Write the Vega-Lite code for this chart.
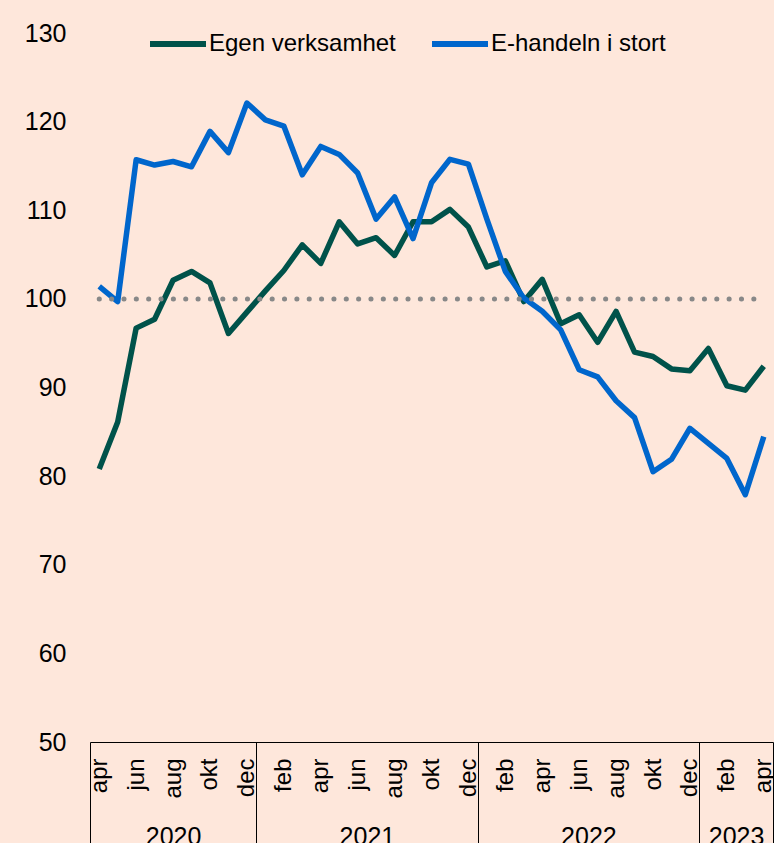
{
  "$schema": "https://vega.github.io/schema/vega-lite/v6.json",
  "width": 683,
  "height": 709,
  "autosize": {"type": "none"},
  "padding": {"left": 90, "top": 33, "right": 1, "bottom": 101},
  "background": "#FEE7DB",
  "config": {
    "view": {"stroke": null},
    "font": "Liberation Sans",
    "legend": {
      "orient": "none",
      "legendX": 57,
      "legendY": -20,
      "direction": "horizontal",
      "labelFont": "Liberation Sans",
      "labelFontSize": 24,
      "labelColor": "#000000",
      "symbolType": "stroke",
      "symbolSize": 3136,
      "symbolStrokeWidth": 6,
      "labelOffset": 0,
      "columnPadding": 24,
      "padding": 0,
      "labelLimit": 400
    }
  },
  "datasets": {
    "series": [
      {"t": 0, "month": "2020-04", "Egen verksamhet": 80.8, "E-handeln i stort": 101.4},
      {"t": 1, "month": "2020-05", "Egen verksamhet": 86.1, "E-handeln i stort": 99.7},
      {"t": 2, "month": "2020-06", "Egen verksamhet": 96.7, "E-handeln i stort": 115.7},
      {"t": 3, "month": "2020-07", "Egen verksamhet": 97.7, "E-handeln i stort": 115.1},
      {"t": 4, "month": "2020-08", "Egen verksamhet": 102.1, "E-handeln i stort": 115.5},
      {"t": 5, "month": "2020-09", "Egen verksamhet": 103.1, "E-handeln i stort": 114.9},
      {"t": 6, "month": "2020-10", "Egen verksamhet": 101.8, "E-handeln i stort": 118.9},
      {"t": 7, "month": "2020-11", "Egen verksamhet": 96.1, "E-handeln i stort": 116.5},
      {"t": 8, "month": "2020-12", "Egen verksamhet": 98.5, "E-handeln i stort": 122.1},
      {"t": 9, "month": "2021-01", "Egen verksamhet": 100.9, "E-handeln i stort": 120.2},
      {"t": 10, "month": "2021-02", "Egen verksamhet": 103.2, "E-handeln i stort": 119.5},
      {"t": 11, "month": "2021-03", "Egen verksamhet": 106.1, "E-handeln i stort": 114.0},
      {"t": 12, "month": "2021-04", "Egen verksamhet": 104.0, "E-handeln i stort": 117.2},
      {"t": 13, "month": "2021-05", "Egen verksamhet": 108.7, "E-handeln i stort": 116.3},
      {"t": 14, "month": "2021-06", "Egen verksamhet": 106.2, "E-handeln i stort": 114.2},
      {"t": 15, "month": "2021-07", "Egen verksamhet": 106.9, "E-handeln i stort": 109.0},
      {"t": 16, "month": "2021-08", "Egen verksamhet": 104.9, "E-handeln i stort": 111.5},
      {"t": 17, "month": "2021-09", "Egen verksamhet": 108.7, "E-handeln i stort": 106.8},
      {"t": 18, "month": "2021-10", "Egen verksamhet": 108.7, "E-handeln i stort": 113.1},
      {"t": 19, "month": "2021-11", "Egen verksamhet": 110.1, "E-handeln i stort": 115.75},
      {"t": 20, "month": "2021-12", "Egen verksamhet": 108.1, "E-handeln i stort": 115.2},
      {"t": 21, "month": "2022-01", "Egen verksamhet": 103.6, "E-handeln i stort": 109.0},
      {"t": 22, "month": "2022-02", "Egen verksamhet": 104.3, "E-handeln i stort": 103.1},
      {"t": 23, "month": "2022-03", "Egen verksamhet": 99.7, "E-handeln i stort": 100.1},
      {"t": 24, "month": "2022-04", "Egen verksamhet": 102.2, "E-handeln i stort": 98.6},
      {"t": 25, "month": "2022-05", "Egen verksamhet": 97.2, "E-handeln i stort": 96.5},
      {"t": 26, "month": "2022-06", "Egen verksamhet": 98.2, "E-handeln i stort": 92.0},
      {"t": 27, "month": "2022-07", "Egen verksamhet": 95.1, "E-handeln i stort": 91.2},
      {"t": 28, "month": "2022-08", "Egen verksamhet": 98.6, "E-handeln i stort": 88.5},
      {"t": 29, "month": "2022-09", "Egen verksamhet": 94.0, "E-handeln i stort": 86.6},
      {"t": 30, "month": "2022-10", "Egen verksamhet": 93.5, "E-handeln i stort": 80.5},
      {"t": 31, "month": "2022-11", "Egen verksamhet": 92.1, "E-handeln i stort": 81.9},
      {"t": 32, "month": "2022-12", "Egen verksamhet": 91.9, "E-handeln i stort": 85.4},
      {"t": 33, "month": "2023-01", "Egen verksamhet": 94.4, "E-handeln i stort": 83.7},
      {"t": 34, "month": "2023-02", "Egen verksamhet": 90.2, "E-handeln i stort": 82.0},
      {"t": 35, "month": "2023-03", "Egen verksamhet": 89.7, "E-handeln i stort": 77.9},
      {"t": 36, "month": "2023-04", "Egen verksamhet": 92.4, "E-handeln i stort": 84.45}
    ],
    "reference": [
      {"t": 0, "ref": 100},
      {"t": 36, "ref": 100}
    ]
  },
  "layer": [
    {
      "data": {"name": "series"},
      "transform": [
        {"fold": ["Egen verksamhet", "E-handeln i stort"], "as": ["series", "value"]},
        {"filter": "datum.series === 'Egen verksamhet'"}
      ],
      "mark": {"type": "line", "strokeWidth": 5.5, "strokeJoin": "round"},
      "encoding": {
        "x": {
          "field": "t", "type": "quantitative",
          "scale": {"domain": [-0.5, 36.5], "nice": false, "zero": false},
          "axis": {
            "orient": "bottom",
            "title": null,
            "values": [0, 2, 4, 6, 8, 10, 12, 14, 16, 18, 20, 22, 24, 26, 28, 30, 32, 34, 36],
            "labelExpr": "['jan','feb','mar','apr','maj','jun','jul','aug','sep','okt','nov','dec'][(datum.value + 3) % 12]",
            "labelAngle": -90,
            "labelAlign": "right",
            "labelBaseline": "middle",
            "labelFont": "Liberation Sans",
            "labelFontSize": 24,
            "labelColor": "#000000",
            "labelPadding": 16,
            "labelFlush": false,
            "labelOverlap": false,
            "labelBound": false,
            "ticks": false,
            "grid": false,
            "domain": true,
            "domainColor": "#000000",
            "domainWidth": 1
          }
        },
        "y": {
          "field": "value", "type": "quantitative",
          "scale": {"domain": [50, 130], "nice": false, "zero": false},
          "axis": {
            "title": null,
            "values": [50, 60, 70, 80, 90, 100, 110, 120, 130],
            "labelFont": "Liberation Sans",
            "labelFontSize": 25,
            "labelColor": "#000000",
            "labelPadding": 24,
            "ticks": false,
            "domain": false,
            "grid": false
          }
        },
        "color": {
          "field": "series", "type": "nominal", "title": null,
          "scale": {"domain": ["Egen verksamhet", "E-handeln i stort"], "range": ["#00524A", "#0066CC"]}
        }
      }
    },
    {
      "data": {"name": "series"},
      "transform": [
        {"fold": ["Egen verksamhet", "E-handeln i stort"], "as": ["series", "value"]},
        {"filter": "datum.series === 'E-handeln i stort'"}
      ],
      "mark": {"type": "line", "strokeWidth": 5.5, "strokeJoin": "round"},
      "encoding": {
        "x": {
          "field": "t", "type": "quantitative",
          "scale": {"domain": [-0.5, 36.5], "nice": false, "zero": false},
          "axis": {
            "orient": "bottom",
            "title": null,
            "values": [4, 14.5, 26.5, 34.5],
            "labelExpr": "datum.value < 8 ? '2020' : datum.value < 20 ? '2021' : datum.value < 32 ? '2022' : '2023'",
            "labelFont": "Liberation Sans",
            "labelFontSize": 25,
            "labelColor": "#000000",
            "labelPadding": 82,
            "labelFlush": false,
            "labelOverlap": false,
            "labelBound": false,
            "ticks": false,
            "grid": false,
            "domain": false
          }
        },
        "y": {
          "field": "value", "type": "quantitative",
          "scale": {"domain": [50, 130], "nice": false, "zero": false}
        },
        "color": {
          "field": "series", "type": "nominal", "title": null,
          "scale": {"domain": ["Egen verksamhet", "E-handeln i stort"], "range": ["#00524A", "#0066CC"]}
        }
      }
    },
    {
      "data": {"name": "reference"},
      "mark": {"type": "line", "color": "#888888", "strokeWidth": 5, "strokeCap": "round", "strokeDash": [0.1, 12.25]},
      "encoding": {
        "x": {
          "field": "t", "type": "quantitative",
          "scale": {"domain": [-0.5, 36.5], "nice": false, "zero": false},
          "axis": {
            "orient": "bottom",
            "title": null,
            "values": [-0.5, 8.5, 20.5, 32.5, 36.5],
            "labels": false,
            "ticks": true,
            "tickSize": 101,
            "tickColor": "#000000",
            "tickWidth": 1,
            "grid": false,
            "domain": false
          }
        },
        "y": {
          "field": "ref", "type": "quantitative",
          "scale": {"domain": [50, 130], "nice": false, "zero": false}
        }
      }
    }
  ],
  "resolve": {"axis": {"x": "independent"}}
}
